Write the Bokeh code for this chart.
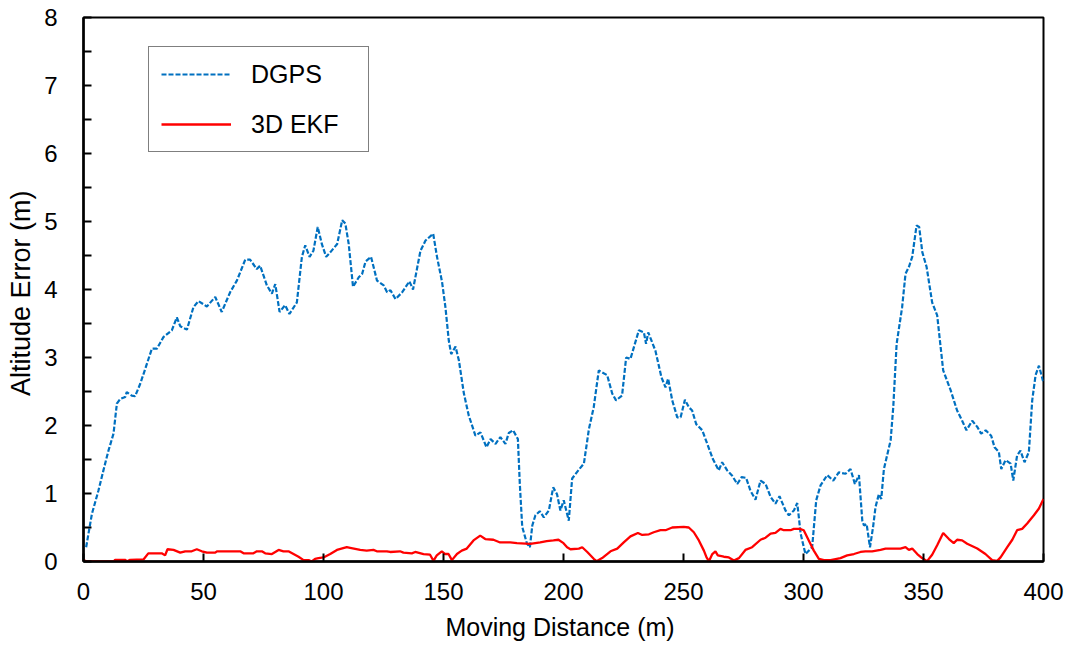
from bokeh.plotting import figure
from bokeh.models import Legend, LegendItem, FixedTicker, Range1d
from bokeh.embed import file_html
from bokeh.resources import INLINE

# ---------------- data ----------------
dgps_x = [1.1, 3.5, 6.2, 8.3, 10.4, 12.5, 13.9, 15.3, 17.4, 18.0, 20.1, 21.5, 23.6, 25.7, 28.5, 30.6,
          33.3, 36.8, 38.9, 40.3, 43.1, 45.8, 47.9, 51.4, 54.9, 57.6, 61.1, 63.9, 67.4, 69.4, 72.2,
          73.6, 76.4, 78.5, 79.9, 81.7, 84.0, 85.8, 88.9, 91.0, 92.4, 94.2, 95.8, 97.6, 99.3, 101.1,
          102.9, 105.7, 107.8, 109.1, 110.5, 112.3, 114.7, 116.1, 117.5, 119.8, 122.3, 125.1, 126.5,
          127.9, 130.0, 132.8, 135.8, 137.3, 140.4, 142.5, 145.7, 147.3, 149.4, 150.8, 152.2, 153.2,
          155.0, 156.4, 158.5, 160.5, 163.3, 165.4, 167.9, 169.6, 171.7, 173.7, 175.8, 177.2, 179.0,
          181.0, 181.8, 182.8, 184.8, 186.0, 187.0, 188.3, 190.1, 191.8, 193.9, 195.7, 197.3, 198.7,
          200.1, 202.2, 203.6, 206.4, 208.5, 210.6, 212.6, 214.7, 218.2, 220.3, 221.9, 224.4, 226.1,
          227.9, 231.4, 233.5, 234.4, 235.3, 238.3, 240.8, 242.5, 243.6, 245.3, 247.4, 248.8, 250.6,
          252.2, 253.6, 255.3, 257.8, 259.9, 262.2, 264.7, 266.1, 268.2, 270.3, 272.4, 274.2, 276.1,
          277.9, 280.0, 282.1, 284.2, 286.3, 288.3, 290.0, 292.5, 293.9, 296.0, 297.4, 298.8, 300.8,
          303.6, 305.3, 307.1, 309.9, 312.4, 314.7, 317.5, 319.6, 321.4, 323.1, 324.5, 325.2, 326.3,
          327.7, 329.0, 330.0, 331.4, 332.4, 333.5, 336.3, 337.4, 338.8, 341.1, 342.5, 343.9, 345.3,
          347.1, 348.2, 349.5, 351.3, 353.6, 355.7, 358.2, 361.3, 364.0, 366.1, 367.9, 370.3, 372.4,
          374.0, 375.9, 378.2, 379.6, 381.4, 382.4, 384.2, 386.3, 387.4, 389.0, 390.4, 392.1, 393.9,
          395.3, 396.7, 398.1, 399.9]
dgps_y = [0.21, 0.70, 1.04, 1.34, 1.63, 1.88, 2.32, 2.39, 2.42, 2.49, 2.44, 2.43, 2.61, 2.83, 3.13, 3.13,
          3.30, 3.40, 3.59, 3.46, 3.41, 3.74, 3.83, 3.75, 3.89, 3.67, 3.96, 4.13, 4.44, 4.44, 4.30,
          4.35, 4.06, 3.94, 4.08, 3.67, 3.77, 3.64, 3.81, 4.48, 4.65, 4.48, 4.57, 4.92, 4.67, 4.48,
          4.55, 4.67, 5.02, 4.97, 4.67, 4.04, 4.18, 4.23, 4.41, 4.48, 4.13, 4.06, 3.96,
          3.99, 3.86, 3.96, 4.12, 4.00, 4.57, 4.72, 4.82, 4.48, 4.11, 3.74, 3.25, 3.05,
          3.16, 2.96, 2.47, 2.15, 1.85, 1.90, 1.68, 1.80, 1.73, 1.83, 1.73, 1.89, 1.93,
          1.80, 1.14, 0.51, 0.26, 0.21, 0.53, 0.68, 0.74, 0.65, 0.75, 1.09, 0.99, 0.75,
          0.90, 0.60, 1.22, 1.35, 1.44, 1.95, 2.27, 2.81, 2.74, 2.47, 2.37, 2.44, 3.00,
          2.98, 3.40, 3.37, 3.20, 3.37, 3.10, 2.71, 2.56, 2.69, 2.37, 2.12, 2.12, 2.38,
          2.27, 2.22, 2.02, 1.93, 1.73, 1.51, 1.34, 1.46, 1.34, 1.26, 1.14, 1.24, 1.23,
          1.04, 0.91, 1.19, 1.14, 0.95, 0.85, 0.96, 0.75, 0.68, 0.75, 0.86, 0.41, 0.11,
          0.21, 0.90, 1.12, 1.27, 1.19, 1.31, 1.29, 1.36, 1.14, 1.27, 0.60, 0.53, 0.55,
          0.21, 0.51, 0.80, 0.99, 0.92, 1.36, 1.78, 2.27, 3.20, 3.74, 4.23, 4.33, 4.48,
          4.94, 4.92, 4.55, 4.33, 3.81, 3.62, 2.81, 2.52, 2.22, 2.07, 1.93, 2.07, 1.98,
          1.88, 1.93, 1.85, 1.68, 1.61, 1.36, 1.49, 1.44, 1.19, 1.56, 1.63, 1.46, 1.61,
          2.37, 2.74, 2.88, 2.64]

ekf_x = [0.0, 1.4, 12.5, 13.2, 17.4, 18.0, 19.4, 25.0, 27.0, 32.6, 34.0, 35.0, 37.5, 40.3, 42.4, 45.1,
         47.2, 49.3, 51.4, 54.9, 55.6, 65.3, 66.7, 70.8, 72.2, 74.3, 75.7, 78.5, 81.3, 83.3, 85.4,
         87.5, 89.6, 91.7, 93.8, 95.1, 96.5, 97.9, 100.0, 102.8, 105.6, 109.7, 111.1, 115.3, 118.0,
         120.8, 122.2, 126.4, 127.8, 131.9, 133.3, 136.8, 138.2, 141.7, 144.4, 145.8, 147.2, 149.3,
         150.7, 152.1, 153.5, 155.6, 157.6, 159.7, 162.5, 165.3, 167.4, 170.8, 173.6, 177.8, 180.6,
         186.1, 190.3, 193.0, 195.8, 197.9, 200.0, 201.5, 202.9, 206.4, 207.8, 209.9, 212.6, 213.75,
         216.1, 219.6, 222.4, 225.1, 227.9, 231.0, 232.8, 235.6, 237.6, 240.4, 242.5, 245.3, 250.1,
         252.2, 254.3, 256.4, 258.5, 259.6, 260.6, 262.0, 263.3, 264.3, 266.8, 268.9, 271.0, 273.1,
         275.8, 278.6, 282.1, 284.2, 286.3, 288.3, 290.4, 291.8, 294.6, 296.0, 298.5, 300.1, 302.2,
         304.3, 306.4, 308.5, 311.3, 315.4, 318.2, 321.0, 323.75, 325.8, 328.6, 332.1, 334.2, 340.4,
         342.5, 343.9, 345.3, 347.4, 349.4, 351.5, 353.6, 355.7, 358.2, 360.6, 362.6, 364.0, 366.1,
         368.2, 372.4, 375.8, 378.6, 380.7, 382.1, 384.9, 387.0, 389.0, 391.1, 393.2, 396.0, 398.1,
         400.0]
ekf_y = [0.02, 0.0, 0.0, 0.025, 0.025, 0.0, 0.025, 0.03, 0.12, 0.12, 0.09, 0.18, 0.17, 0.13, 0.15, 0.15,
         0.18, 0.15, 0.13, 0.13, 0.15, 0.15, 0.12, 0.12, 0.15, 0.15, 0.12, 0.11, 0.17, 0.15, 0.15,
         0.11, 0.07, 0.02, 0.02, 0.0, 0.04, 0.05, 0.06, 0.11, 0.17, 0.21, 0.20, 0.17, 0.16,
         0.17, 0.15, 0.15, 0.14, 0.15, 0.13, 0.12, 0.14, 0.11, 0.10, 0.01, 0.09, 0.15,
         0.11, 0.11, 0.02, 0.11, 0.16, 0.19, 0.31, 0.38, 0.33, 0.32, 0.28, 0.28, 0.27,
         0.26, 0.28, 0.30, 0.31, 0.32, 0.27, 0.21, 0.18, 0.19, 0.21, 0.14, 0.04, 0.005,
         0.05, 0.15, 0.19, 0.28, 0.37, 0.42, 0.39, 0.40, 0.43, 0.46, 0.46, 0.50, 0.51,
         0.50, 0.43, 0.31, 0.16, 0.06, 0.005, 0.11, 0.15, 0.09, 0.07, 0.06, 0.015, 0.05,
         0.17, 0.21, 0.32, 0.35, 0.41, 0.42, 0.48, 0.46, 0.46, 0.48, 0.48, 0.46, 0.31,
         0.16, 0.04, 0.02, 0.02, 0.05, 0.09, 0.11, 0.14, 0.15, 0.15, 0.17, 0.19, 0.19,
         0.21, 0.17, 0.19, 0.11, 0.05, 0.005, 0.10, 0.24, 0.42, 0.33, 0.27, 0.32, 0.31,
         0.26, 0.19, 0.11, 0.02, 0.01, 0.06, 0.21, 0.32, 0.46, 0.48, 0.56, 0.68, 0.78,
         0.92]

x_ticks = [0, 50, 100, 150, 200, 250, 300, 350, 400]
y_ticks = [0, 1, 2, 3, 4, 5, 6, 7, 8]
series_names = ["DGPS", "3D EKF"]
x_title = "Moving  Distance (m)"
y_title = "Altitude Error  (m)"

FONT = "Liberation Sans"

p = figure(frame_width=960, frame_height=544, width=1070, height=645,
           min_border_left=83, min_border_right=27, min_border_top=17, min_border_bottom=84,
           output_backend="svg", toolbar_location=None,
           x_range=Range1d(0, 400), y_range=Range1d(0, 8))

p.background_fill_color = "white"
p.border_fill_color = "white"
p.outline_line_color = "black"
p.outline_line_width = 2
p.xgrid.visible = False
p.ygrid.visible = False

r_dgps = p.line(dgps_x, dgps_y, line_color="#0070C0", line_width=2.2, line_dash="5 2")
r_ekf = p.line(ekf_x, ekf_y, line_color="#FF0000", line_width=2.3)

xa = p.xaxis[0]
xa.ticker = FixedTicker(ticks=x_ticks)
xa.axis_label = x_title
ya = p.yaxis[0]
ya.ticker = FixedTicker(ticks=y_ticks, minor_ticks=[v + 0.5 for v in y_ticks[:-1]])
ya.axis_label = y_title

for ax in (xa, ya):
    ax.axis_line_color = "black"
    ax.axis_line_width = 2.5
    ax.major_tick_line_color = "black"
    ax.major_tick_line_width = 2
    ax.major_tick_in = 8
    ax.major_tick_out = 0
    ax.minor_tick_line_color = "black"
    ax.minor_tick_line_width = 2
    ax.minor_tick_in = 8
    ax.minor_tick_out = 0
    ax.major_label_text_font = FONT
    ax.major_label_text_font_size = "24px"
    ax.major_label_text_color = "black"
    ax.axis_label_text_font = FONT
    ax.axis_label_text_font_style = "normal"
    ax.axis_label_text_color = "black"

xa.axis_label_text_font_size = "25px"
ya.axis_label_text_font_size = "27px"
xa.major_label_standoff = 21
xa.axis_label_standoff = 10
ya.major_label_standoff = 26
ya.axis_label_standoff = 5

legend = Legend(items=[LegendItem(label=series_names[0], renderers=[r_dgps]),
                       LegendItem(label=series_names[1], renderers=[r_ekf])],
                location=(65, 409))
legend.border_line_color = "black"
legend.border_line_width = 1.5
legend.background_fill_color = "white"
legend.background_fill_alpha = 1
legend.label_text_font = FONT
legend.label_text_font_size = "25px"
legend.label_text_color = "black"
legend.glyph_width = 70
legend.glyph_height = 30
legend.label_height = 30
legend.label_width = 105
legend.label_standoff = 20
legend.spacing = 20
legend.padding = 12
legend.margin = 0
p.add_layout(legend)

open("out.html", "w").write(file_html(p, INLINE))
